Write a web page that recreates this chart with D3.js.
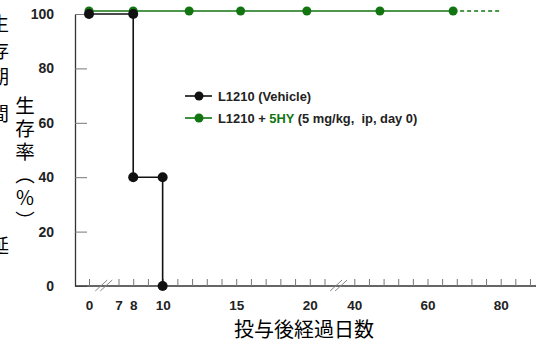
<!DOCTYPE html>
<html>
<head>
<meta charset="utf-8">
<script src="https://cdn.jsdelivr.net/npm/d3@7"></script>
<style>
  body { margin: 0; background: #fff; }
  svg { display: block; }
  text { font-family: "Liberation Sans", Arial, sans-serif; }
  .cjk { font-family: "Noto Sans CJK JP", sans-serif; }
</style>
</head>
<body>
<div id="chart"></div>
<script>
// survival curves (day, % alive)
const vehicleDays = [0, 8, 8, 10, 10];
const vehicleSurv = [100, 100, 40, 40, 0];
const treatedDays = [0, 8, 11.8, 15.3, 19.8, 47, 67];
const treatedSurv = [100, 100, 100, 100, 100, 100, 100];
const treatedFollowDays = [67, 80];   // dashed continuation
const treatedFollowSurv = [100, 100];

const yTicks = [0, 20, 40, 60, 80, 100];
const xTickDays = [0, 7, 8, 9, 10, 11, 12, 13, 14, 15, 16, 17, 18, 19, 20, 21,
  40, 44, 48, 52, 56, 60, 64, 68, 72, 76, 80, 84, 88];
const xLabelDays = [0, 7, 8, 10, 15, 20, 40, 60, 80];
const axisBreaks = [3.5, 30];
const legendLabels = ['L1210 (Vehicle)', 'L1210 + 5HY (5 mg/kg,  ip, day 0)'];
const yTitleParts = ['生存率（', '%', '）'];
const xTitle = '投与後経過日数';
const edgeChars = ['生', '存', '期', '間', '延'];

const W = 536, H = 345;
const black = '#111', green = '#127512';

const svg = d3.select('#chart').append('svg')
  .attr('width', W)
  .attr('height', H);

// broken x axis: 0-7 squeezed, 7-21 by day, gap, 40+ compressed
const x = d3.scaleLinear()
  .domain([0, 7, 21, 40, 90])
  .range([89, 118.5, 324.5, 354.3, 537.3]);
const y = d3.scaleLinear().domain([0, 100]).range([286, 14]);
const x0 = 75;

// clipped characters from the neighbouring figure at the left edge
const edgeY = [24, 51, 77, 114, 246];
svg.append('g').selectAll('text')
  .data(edgeChars)
  .join('text')
  .attr('class', 'cjk')
  .attr('x', -10)
  .attr('y', (d, i) => edgeY[i] + 7)
  .attr('font-size', 19)
  .text(d => d);

// y axis
const yAxis = svg.append('g')
  .attr('transform', `translate(${x0},0)`)
  .call(d3.axisLeft(y).tickValues(yTicks).tickSize(-12).tickSizeOuter(0)
    .tickPadding(21).tickFormat(d3.format('d')));
yAxis.select('.domain').attr('stroke', '#333').attr('stroke-width', 1.3);
yAxis.selectAll('.tick line').attr('stroke', '#777');
yAxis.selectAll('.tick text')
  .attr('font-size', 14).attr('font-weight', 'bold').attr('fill', '#222');

// x axis
const xAxis = svg.append('g')
  .attr('transform', `translate(0,${y(0)})`)
  .call(d3.axisBottom(x).tickValues(xTickDays).tickSize(-7).tickPadding(14)
    .tickFormat(d => xLabelDays.includes(d) ? d : ''));
xAxis.select('.domain').attr('d', `M${x0},0H${W}`)
  .attr('stroke', '#333').attr('stroke-width', 1.6);
xAxis.selectAll('.tick line').attr('stroke', '#777');
xAxis.selectAll('.tick text')
  .attr('font-size', 13.5).attr('font-weight', 'bold').attr('fill', '#222');

// break marks
axisBreaks.forEach(b => {
  [-2.5, 2.5].forEach(o => {
    svg.append('line')
      .attr('x1', x(b) + o - 6).attr('y1', y(0) + 5)
      .attr('x2', x(b) + o + 6).attr('y2', y(0) - 6)
      .attr('stroke', '#888').attr('stroke-width', 1);
  });
});

// treated group, lifted a little so it does not hide the vehicle line
const gT = svg.append('g').attr('transform', 'translate(0,-3)');
const treated = treatedDays.map((d, i) => [d, treatedSurv[i]]);
const follow = treatedFollowDays.map((d, i) => [d, treatedFollowSurv[i]]);
const line = d3.line().x(d => x(d[0])).y(d => y(d[1]));
gT.append('path').attr('d', line(treated))
  .attr('fill', 'none').attr('stroke', green).attr('stroke-width', 1.6);
gT.append('path').attr('d', line(follow))
  .attr('fill', 'none').attr('stroke', green).attr('stroke-width', 1.6)
  .attr('stroke-dasharray', '4,3');
gT.selectAll('circle').data(treated).join('circle')
  .attr('cx', d => x(d[0])).attr('cy', d => y(d[1])).attr('r', 4.5)
  .attr('fill', green);

// vehicle group
const vehicle = vehicleDays.map((d, i) => [d, vehicleSurv[i]]);
svg.append('path').attr('d', line(vehicle))
  .attr('fill', 'none').attr('stroke', black).attr('stroke-width', 1.6);
svg.append('g').selectAll('circle').data(vehicle).join('circle')
  .attr('cx', d => x(d[0])).attr('cy', d => y(d[1])).attr('r', 5)
  .attr('fill', black);

// legend
const legend = svg.append('g').attr('transform', 'translate(185,96)');
[black, green].forEach((c, i) => {
  const row = legend.append('g').attr('transform', `translate(0,${i * 22})`);
  row.append('line').attr('x1', 0).attr('x2', 27).attr('stroke', c).attr('stroke-width', 1.6);
  row.append('circle').attr('cx', 14).attr('r', 4.5).attr('fill', c);
  const t = row.append('text').attr('x', 33).attr('y', 4.5)
    .attr('font-size', 12.9).attr('font-weight', 'bold').attr('fill', '#222');
  if (i === 0) {
    t.text(legendLabels[0]);
  } else {
    const parts = legendLabels[1].split('5HY');
    t.append('tspan').text(parts[0]);
    t.append('tspan').attr('fill', green).text('5HY');
    t.append('tspan').attr('xml:space', 'preserve').text(parts[1]);
  }
});

// titles
svg.append('text')
  .attr('class', 'cjk')
  .attr('x', 304).attr('y', 337)
  .attr('text-anchor', 'middle')
  .attr('font-size', 20)
  .text(xTitle);

// vertical y title; % kept upright like the CJK glyphs
const yt = svg.append('text')
  .attr('class', 'cjk')
  .attr('x', 25).attr('y', 96)
  .attr('font-size', 19.5)
  .style('writing-mode', 'vertical-rl')
  .style('letter-spacing', '3.5px');
yt.append('tspan').text(yTitleParts[0]);
yt.append('tspan').style('text-orientation', 'upright').text(yTitleParts[1]);
yt.append('tspan').text(yTitleParts[2]);
</script>
</body>
</html>
